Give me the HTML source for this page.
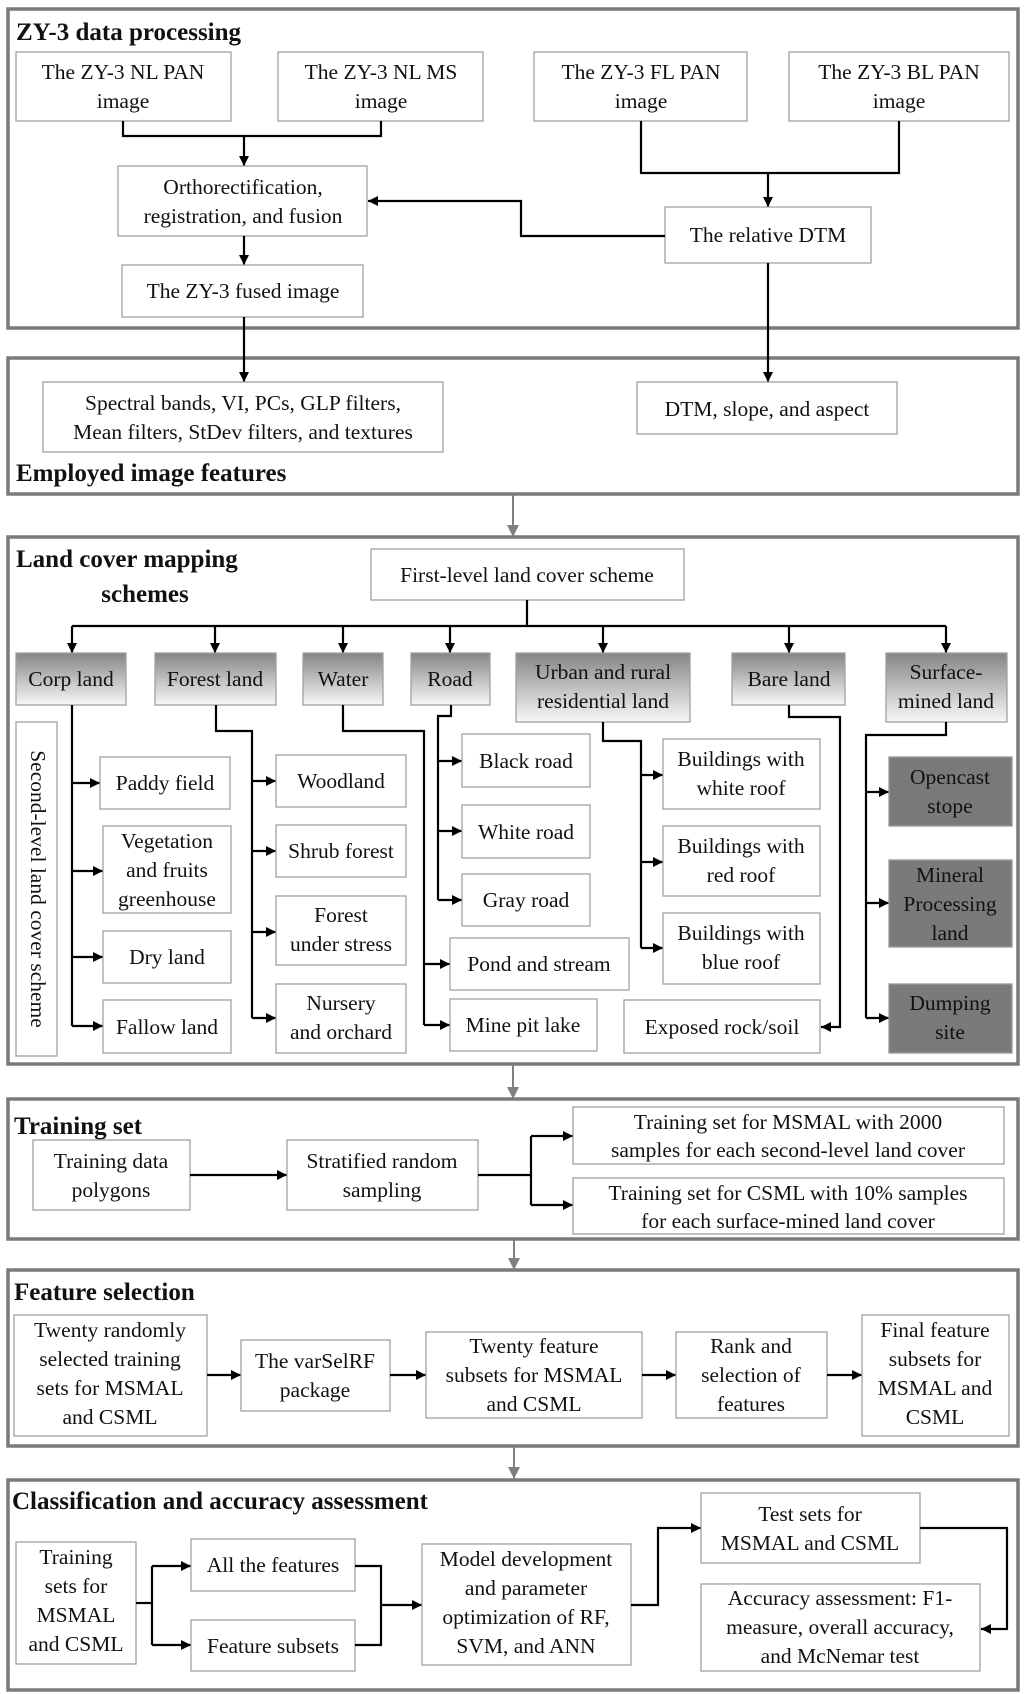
<!DOCTYPE html>
<html><head><meta charset="utf-8"><style>
html,body{margin:0;padding:0;background:#fff;}
svg{display:block;}
text{font-family:"Liberation Serif",serif;font-size:21.5px;fill:#111;text-anchor:middle;}
.t{font-weight:bold;font-size:25px;text-anchor:start;}
.b{fill:#fff;stroke:#a0a0a0;stroke-width:1.3;}
.g{fill:url(#gr);stroke:#a0a0a0;stroke-width:1.3;}
.d{fill:#7a7a7a;stroke:#999;stroke-width:1.3;}
.f{fill:none;stroke:#7a7a7a;stroke-width:3.5;}
.l{fill:none;stroke:#000;stroke-width:2.2;}
.gl{fill:none;stroke:#808080;stroke-width:2;}
</style></head><body>
<svg width="1024" height="1694" viewBox="0 0 1024 1694" xmlns="http://www.w3.org/2000/svg">
<defs>
<linearGradient id="gr" x1="0" y1="0" x2="0" y2="1"><stop offset="0" stop-color="#858585"/><stop offset="1" stop-color="#f8f8f8"/></linearGradient>
<marker id="a" markerWidth="10" markerHeight="10" refX="10" refY="5" orient="auto" markerUnits="userSpaceOnUse"><path d="M0,0 L10,5 L0,10 Z" fill="#000"/></marker>
<marker id="ga" markerWidth="12" markerHeight="12" refX="12" refY="6" orient="auto" markerUnits="userSpaceOnUse"><path d="M0,0 L12,6 L0,12 Z" fill="#808080"/></marker>
</defs>

<!-- Frame 1 -->
<rect class="f" x="8" y="9" width="1010" height="319"/>
<text class="t" x="16" y="40">ZY-3 data processing</text>
<rect class="b" x="16" y="52" width="215" height="69"/><text x="123" y="79">The ZY-3 NL PAN</text><text x="123" y="108">image</text>
<rect class="b" x="278" y="52" width="205" height="69"/><text x="381" y="79">The ZY-3 NL MS</text><text x="381" y="108">image</text>
<rect class="b" x="534" y="52" width="213" height="69"/><text x="641" y="79">The ZY-3 FL PAN</text><text x="641" y="108">image</text>
<rect class="b" x="789" y="52" width="220" height="69"/><text x="899" y="79">The ZY-3 BL PAN</text><text x="899" y="108">image</text>
<polyline class="l" points="123,121 123,136 381,136 381,121"/>
<polyline class="l" points="244,136 244,166" marker-end="url(#a)"/>
<polyline class="l" points="641,121 641,173 899,173 899,121"/>
<polyline class="l" points="768,173 768,207" marker-end="url(#a)"/>
<rect class="b" x="118" y="166" width="249" height="70"/><text x="243" y="194">Orthorectification,</text><text x="243" y="223">registration, and fusion</text>
<rect class="b" x="665" y="207" width="206" height="56"/><text x="768" y="242">The relative DTM</text>
<polyline class="l" points="665,236 521,236 521,201 368,201" marker-end="url(#a)"/>
<polyline class="l" points="244,236 244,265" marker-end="url(#a)"/>
<rect class="b" x="122" y="265" width="241" height="52"/><text x="243" y="298">The ZY-3 fused image</text>

<!-- Frame 2 -->
<rect class="f" x="8" y="358" width="1010" height="136"/>
<polyline class="l" points="244,317 244,382" marker-end="url(#a)"/>
<polyline class="l" points="768,263 768,382" marker-end="url(#a)"/>
<rect class="b" x="43" y="382" width="400" height="70"/><text x="243" y="410">Spectral bands, VI, PCs, GLP filters,</text><text x="243" y="439">Mean filters, StDev filters, and textures</text>
<rect class="b" x="637" y="382" width="260" height="52"/><text x="767" y="416">DTM, slope, and aspect</text>
<text class="t" x="16" y="481">Employed image features</text>
<polyline class="gl" points="513,494 513,537" marker-end="url(#ga)"/>

<!-- Frame 3 -->
<rect class="f" x="8" y="537" width="1010" height="527"/>
<text class="t" x="16" y="567">Land cover mapping</text>
<text class="t" x="145" y="602" style="text-anchor:middle">schemes</text>
<rect class="b" x="371" y="549" width="313" height="51"/><text x="527" y="582">First-level land cover scheme</text>
<polyline class="l" points="527,600 527,626"/>
<polyline class="l" points="72,626 946,626"/>
<g>
<line class="l" x1="72" y1="626" x2="72" y2="653" marker-end="url(#a)"/>
<line class="l" x1="215" y1="626" x2="215" y2="653" marker-end="url(#a)"/>
<line class="l" x1="343" y1="626" x2="343" y2="653" marker-end="url(#a)"/>
<line class="l" x1="450" y1="626" x2="450" y2="653" marker-end="url(#a)"/>
<line class="l" x1="603" y1="626" x2="603" y2="653" marker-end="url(#a)"/>
<line class="l" x1="789" y1="626" x2="789" y2="653" marker-end="url(#a)"/>
<line class="l" x1="946" y1="626" x2="946" y2="653" marker-end="url(#a)"/>
</g>
<rect class="g" x="16" y="653" width="110" height="52"/><text x="71" y="686">Corp land</text>
<rect class="g" x="155" y="653" width="121" height="52"/><text x="215" y="686">Forest land</text>
<rect class="g" x="303" y="653" width="80" height="52"/><text x="343" y="686">Water</text>
<rect class="g" x="411" y="653" width="79" height="52"/><text x="450" y="686">Road</text>
<rect class="g" x="516" y="653" width="174" height="69"/><text x="603" y="679">Urban and rural</text><text x="603" y="708">residential land</text>
<rect class="g" x="732" y="653" width="113" height="52"/><text x="789" y="686">Bare land</text>
<rect class="g" x="886" y="653" width="121" height="69"/><text x="946" y="679">Surface-</text><text x="946" y="708">mined land</text>

<rect class="b" x="16" y="722" width="41" height="334"/>
<text x="36" y="889" transform="rotate(90 36 889)" dominant-baseline="middle">Second-level land cover scheme</text>

<!-- Corp -->
<polyline class="l" points="72,705 72,1026"/>
<line class="l" x1="72" y1="783" x2="100" y2="783" marker-end="url(#a)"/>
<line class="l" x1="72" y1="871" x2="103" y2="871" marker-end="url(#a)"/>
<line class="l" x1="72" y1="957" x2="103" y2="957" marker-end="url(#a)"/>
<line class="l" x1="72" y1="1026" x2="103" y2="1026" marker-end="url(#a)"/>
<rect class="b" x="100" y="757" width="130" height="52"/><text x="165" y="790">Paddy field</text>
<rect class="b" x="103" y="826" width="128" height="87"/><text x="167" y="848">Vegetation</text><text x="167" y="877">and fruits</text><text x="167" y="906">greenhouse</text>
<rect class="b" x="103" y="931" width="128" height="52"/><text x="167" y="964">Dry land</text>
<rect class="b" x="103" y="1000" width="128" height="53"/><text x="167" y="1034">Fallow land</text>

<!-- Forest -->
<polyline class="l" points="216,705 216,731 252,731 252,1018"/>
<line class="l" x1="252" y1="781" x2="276" y2="781" marker-end="url(#a)"/>
<line class="l" x1="252" y1="851" x2="276" y2="851" marker-end="url(#a)"/>
<line class="l" x1="252" y1="932" x2="276" y2="932" marker-end="url(#a)"/>
<line class="l" x1="252" y1="1018" x2="276" y2="1018" marker-end="url(#a)"/>
<rect class="b" x="276" y="755" width="130" height="52"/><text x="341" y="788">Woodland</text>
<rect class="b" x="276" y="825" width="130" height="52"/><text x="341" y="858">Shrub forest</text>
<rect class="b" x="276" y="896" width="130" height="69"/><text x="341" y="922">Forest</text><text x="341" y="951">under stress</text>
<rect class="b" x="276" y="984" width="130" height="69"/><text x="341" y="1010">Nursery</text><text x="341" y="1039">and orchard</text>

<!-- Water -->
<polyline class="l" points="343,705 343,731 424,731 424,1025"/>
<line class="l" x1="424" y1="964" x2="450" y2="964" marker-end="url(#a)"/>
<line class="l" x1="424" y1="1025" x2="450" y2="1025" marker-end="url(#a)"/>
<rect class="b" x="450" y="938" width="179" height="52"/><text x="539" y="971">Pond and stream</text>
<rect class="b" x="450" y="999" width="147" height="52"/><text x="523" y="1032">Mine pit lake</text>

<!-- Road -->
<polyline class="l" points="451,705 451,716 438,716 438,900"/>
<line class="l" x1="438" y1="761" x2="462" y2="761" marker-end="url(#a)"/>
<line class="l" x1="438" y1="831" x2="462" y2="831" marker-end="url(#a)"/>
<line class="l" x1="438" y1="900" x2="462" y2="900" marker-end="url(#a)"/>
<rect class="b" x="462" y="734" width="128" height="53"/><text x="526" y="768">Black road</text>
<rect class="b" x="462" y="805" width="128" height="53"/><text x="526" y="839">White road</text>
<rect class="b" x="462" y="874" width="128" height="52"/><text x="526" y="907">Gray road</text>

<!-- Urban -->
<polyline class="l" points="603,722 603,741 641,741 641,948"/>
<line class="l" x1="641" y1="775" x2="663" y2="775" marker-end="url(#a)"/>
<line class="l" x1="641" y1="862" x2="663" y2="862" marker-end="url(#a)"/>
<line class="l" x1="641" y1="948" x2="663" y2="948" marker-end="url(#a)"/>
<rect class="b" x="663" y="739" width="157" height="70"/><text x="741" y="766">Buildings with</text><text x="741" y="795">white roof</text>
<rect class="b" x="663" y="826" width="157" height="70"/><text x="741" y="853">Buildings with</text><text x="741" y="882">red roof</text>
<rect class="b" x="663" y="913" width="157" height="71"/><text x="741" y="940">Buildings with</text><text x="741" y="969">blue roof</text>

<!-- Bare -->
<polyline class="l" points="789,705 789,717 840,717 840,1027 821,1027" marker-end="url(#a)"/>
<rect class="b" x="624" y="1000" width="196" height="53"/><text x="722" y="1034">Exposed rock/soil</text>

<!-- Surface -->
<polyline class="l" points="946,722 946,735 866,735 866,1018"/>
<line class="l" x1="866" y1="792" x2="889" y2="792" marker-end="url(#a)"/>
<line class="l" x1="866" y1="903" x2="889" y2="903" marker-end="url(#a)"/>
<line class="l" x1="866" y1="1018" x2="889" y2="1018" marker-end="url(#a)"/>
<rect class="d" x="889" y="757" width="123" height="69"/><text x="950" y="784">Opencast</text><text x="950" y="813">stope</text>
<rect class="d" x="889" y="860" width="123" height="87"/><text x="950" y="882">Mineral</text><text x="950" y="911">Processing</text><text x="950" y="940">land</text>
<rect class="d" x="889" y="984" width="123" height="69"/><text x="950" y="1010">Dumping</text><text x="950" y="1039">site</text>

<polyline class="gl" points="513,1064 513,1099" marker-end="url(#ga)"/>

<!-- Frame 4 -->
<rect class="f" x="8" y="1099" width="1010" height="140"/>
<text class="t" x="14" y="1134">Training set</text>
<rect class="b" x="33" y="1140" width="157" height="70"/><text x="111" y="1168">Training data</text><text x="111" y="1197">polygons</text>
<line class="l" x1="190" y1="1175" x2="287" y2="1175" marker-end="url(#a)"/>
<rect class="b" x="287" y="1140" width="191" height="70"/><text x="382" y="1168">Stratified random</text><text x="382" y="1197">sampling</text>
<polyline class="l" points="478,1175 531,1175"/>
<polyline class="l" points="531,1136 531,1205"/>
<line class="l" x1="531" y1="1136" x2="573" y2="1136" marker-end="url(#a)"/>
<line class="l" x1="531" y1="1205" x2="573" y2="1205" marker-end="url(#a)"/>
<rect class="b" x="573" y="1107" width="431" height="57"/><text x="788" y="1129">Training set for MSMAL with 2000</text><text x="788" y="1157">samples for each second-level land cover</text>
<rect class="b" x="573" y="1178" width="431" height="56"/><text x="788" y="1200">Training set for CSML with 10% samples</text><text x="788" y="1228">for each surface-mined land cover</text>

<polyline class="gl" points="514,1239 514,1270" marker-end="url(#ga)"/>

<!-- Frame 5 -->
<rect class="f" x="8" y="1270" width="1010" height="176"/>
<text class="t" x="14" y="1300">Feature selection</text>
<rect class="b" x="14" y="1315" width="193" height="121"/><text x="110" y="1337">Twenty randomly</text><text x="110" y="1366">selected training</text><text x="110" y="1395">sets for MSMAL</text><text x="110" y="1424">and CSML</text>
<line class="l" x1="207" y1="1375" x2="241" y2="1375" marker-end="url(#a)"/>
<rect class="b" x="241" y="1340" width="149" height="71"/><text x="315" y="1368">The varSelRF</text><text x="315" y="1397">package</text>
<line class="l" x1="390" y1="1375" x2="426" y2="1375" marker-end="url(#a)"/>
<rect class="b" x="426" y="1332" width="216" height="86"/><text x="534" y="1353">Twenty feature</text><text x="534" y="1382">subsets for MSMAL</text><text x="534" y="1411">and CSML</text>
<line class="l" x1="642" y1="1375" x2="676" y2="1375" marker-end="url(#a)"/>
<rect class="b" x="676" y="1332" width="151" height="86"/><text x="751" y="1353">Rank and</text><text x="751" y="1382">selection of</text><text x="751" y="1411">features</text>
<line class="l" x1="827" y1="1375" x2="862" y2="1375" marker-end="url(#a)"/>
<rect class="b" x="862" y="1315" width="147" height="121"/><text x="935" y="1337">Final feature</text><text x="935" y="1366">subsets for</text><text x="935" y="1395">MSMAL and</text><text x="935" y="1424">CSML</text>

<polyline class="gl" points="514,1446 514,1479" marker-end="url(#ga)"/>

<!-- Frame 6 -->
<rect class="f" x="8" y="1480" width="1010" height="210"/>
<text class="t" x="12" y="1509">Classification and accuracy assessment</text>
<rect class="b" x="16" y="1542" width="120" height="122"/><text x="76" y="1564">Training</text><text x="76" y="1593">sets for</text><text x="76" y="1622">MSMAL</text><text x="76" y="1651">and CSML</text>
<polyline class="l" points="136,1603 152,1603"/>
<polyline class="l" points="152,1566 152,1645"/>
<line class="l" x1="152" y1="1566" x2="191" y2="1566" marker-end="url(#a)"/>
<line class="l" x1="152" y1="1645" x2="191" y2="1645" marker-end="url(#a)"/>
<rect class="b" x="191" y="1539" width="164" height="52"/><text x="273" y="1572">All the features</text>
<rect class="b" x="191" y="1620" width="164" height="51"/><text x="273" y="1653">Feature subsets</text>
<polyline class="l" points="355,1566 381,1566 381,1645 355,1645"/>
<line class="l" x1="381" y1="1605" x2="422" y2="1605" marker-end="url(#a)"/>
<rect class="b" x="422" y="1544" width="209" height="121"/><text x="526" y="1566">Model development</text><text x="526" y="1595">and parameter</text><text x="526" y="1624">optimization of RF,</text><text x="526" y="1653">SVM, and ANN</text>
<polyline class="l" points="631,1605 658,1605 658,1528 701,1528" marker-end="url(#a)"/>
<rect class="b" x="701" y="1493" width="219" height="70"/><text x="810" y="1521">Test sets for</text><text x="810" y="1550">MSMAL and CSML</text>
<polyline class="l" points="920,1528 1007,1528 1007,1629 981,1629" marker-end="url(#a)"/>
<rect class="b" x="701" y="1584" width="279" height="87"/><text x="840" y="1605">Accuracy assessment: F1-</text><text x="840" y="1634">measure, overall accuracy,</text><text x="840" y="1663">and McNemar test</text>
</svg>
</body></html>
